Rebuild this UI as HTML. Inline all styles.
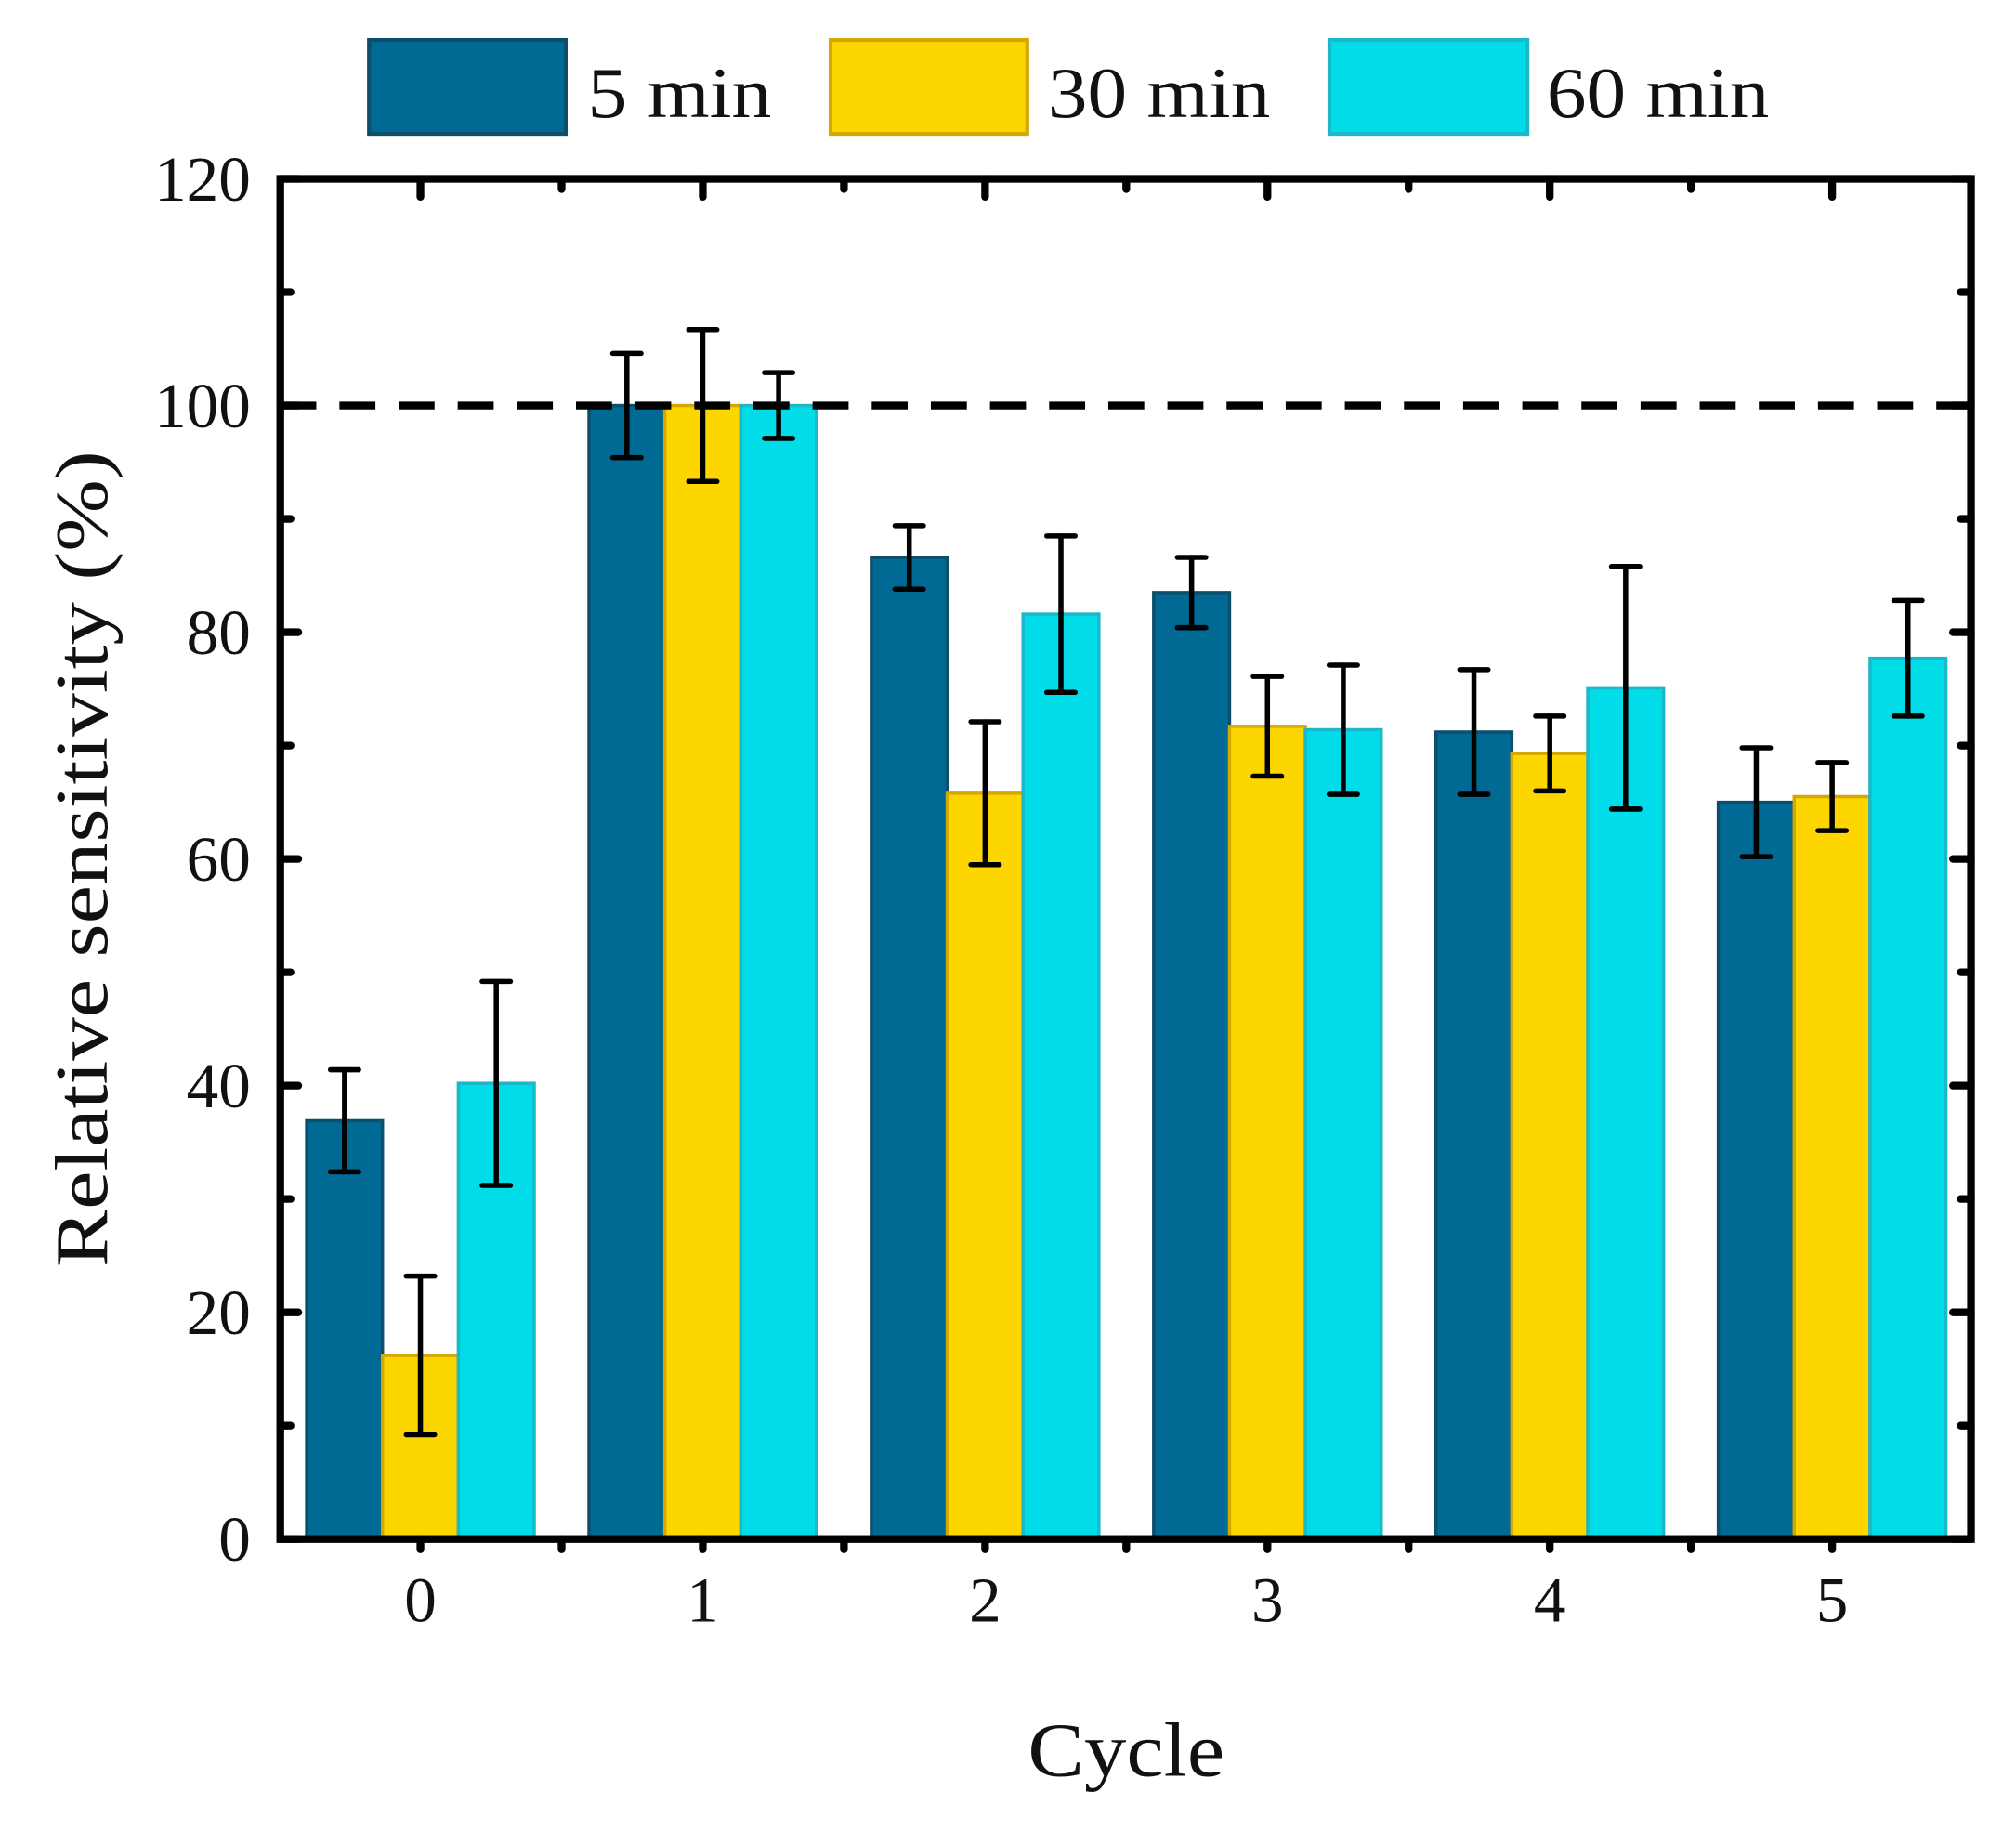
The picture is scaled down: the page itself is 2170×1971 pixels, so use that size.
<!DOCTYPE html>
<html><head><meta charset="utf-8"><style>
html,body{margin:0;padding:0;background:#fff;}
svg{display:block;}
text{font-family:"Liberation Serif",serif;fill:#111;}
</style></head><body>
<svg id="chart" width="2170" height="1971" viewBox="0 0 1568 1424" xmlns="http://www.w3.org/2000/svg">
<g id="legend">
<rect x="287" y="31" width="153" height="73" fill="#006994" stroke="#0d4f6b" stroke-width="3"/>
<text x="457" y="91" font-size="56" textLength="143" lengthAdjust="spacingAndGlyphs">5 min</text>
<rect x="646" y="31" width="153" height="73" fill="#fdd600" stroke="#d4a800" stroke-width="3"/>
<text x="815" y="91" font-size="56" textLength="173" lengthAdjust="spacingAndGlyphs">30 min</text>
<rect x="1034" y="31" width="154" height="73" fill="#00dce8" stroke="#1ab8c8" stroke-width="3"/>
<text x="1203" y="91" font-size="56" textLength="173" lengthAdjust="spacingAndGlyphs">60 min</text>
</g>
<g id="plot"></g>
<text x="876" y="1381" font-size="60" text-anchor="middle" textLength="153" lengthAdjust="spacingAndGlyphs">Cycle</text>
<text transform="translate(83,668) rotate(-90)" font-size="58" text-anchor="middle" textLength="635" lengthAdjust="spacingAndGlyphs">Relative sensitivity (%)</text>
</svg>
<script>
const categories = ["0","1","2","3","4","5"];
const seriesNames = ["5 min","30 min","60 min"];
const values5 = [36.9,100,86.6,83.5,71.2,65.0];
const values30 = [16.2,100,65.8,71.7,69.3,65.5];
const values60 = [40.2,100,81.6,71.4,75.1,77.7];
const err5 = [4.5,4.6,2.8,3.1,5.5,4.8];
const err30 = [7.0,6.7,6.3,4.4,3.3,3.0];
const err60 = [9.0,2.9,6.9,5.7,10.7,5.1];
const yTicks = [0,20,40,60,80,100,120];
const refLine = 100;

const NS="http://www.w3.org/2000/svg";
const L=218,R=1533,T=139,B=1197,yMax=120;
const y=v=>B-(v/yMax)*(B-T);
const xc=i=>327+i*219.6;
const bw=59;
const g=document.getElementById('plot');
function mk(tag,attrs,parent){const e=document.createElementNS(NS,tag);for(const k in attrs)e.setAttribute(k,attrs[k]);(parent||g).appendChild(e);return e;}
const fills=["#006994","#fdd600","#00dce8"],strokes=["#0d4f6b","#d4a800","#1ab8c8"];
const vals=[values5,values30,values60],errs=[err5,err30,err60];
categories.forEach((c,i)=>{
  vals.forEach((s,k)=>{
    const x0=xc(i)+(k-1.5)*bw;
    const r=mk('rect',{x:x0,y:y(s[i]),width:bw,height:B-y(s[i]),fill:fills[k],stroke:strokes[k],'stroke-width':2.5});
    
    
  });
});
const dl=mk('line',{x1:L,x2:R,y1:y(refLine),y2:y(refLine),stroke:'#000','stroke-width':6,'stroke-dasharray':'28 18'});


categories.forEach((c,i)=>{
  vals.forEach((s,k)=>{
    const cx=xc(i)+(k-1)*bw;
    const eg=mk('g',{stroke:'#000','stroke-width':4,'stroke-linecap':'round'});
    
    
    const hi=y(s[i]+errs[k][i]),lo=y(s[i]-errs[k][i]);
    mk('line',{x1:cx,x2:cx,y1:hi,y2:lo},eg);
    mk('line',{x1:cx-11,x2:cx+11,y1:hi,y2:hi},eg);
    mk('line',{x1:cx-11,x2:cx+11,y1:lo,y2:lo},eg);
  });
});
const tg=mk('g',{stroke:'#000','stroke-width':6,'stroke-linecap':'round'});


for(let v=0;v<=yMax;v+=10){
  const len=v%20===0?14:8;
  mk('line',{x1:L,x2:L+len,y1:y(v),y2:y(v)},tg);
  mk('line',{x1:R,x2:R-len,y1:y(v),y2:y(v)},tg);
}
for(let i=-0.5;i<=5.5;i+=0.5){
  const len=Number.isInteger(i)?14:8;const x=xc(i);
  if(x<=L||x>=R) continue;
  mk('line',{x1:x,x2:x,y1:T,y2:T+len},tg);
  mk('line',{x1:x,x2:x,y1:B,y2:B+8},tg);
}
const fr=mk('rect',{x:L,y:T,width:R-L,height:B-T,fill:'none',stroke:'#000','stroke-width':6});


yTicks.forEach(v=>{
  const t=mk('text',{x:195,y:y(v)+17,'font-size':50,'text-anchor':'end'});
  t.textContent=v;
  
  
});
categories.forEach((c,i)=>{
  const t=mk('text',{x:xc(i),y:1261,'font-size':50,'text-anchor':'middle'});
  t.textContent=c;
  
  
});
</script>
</body></html>
